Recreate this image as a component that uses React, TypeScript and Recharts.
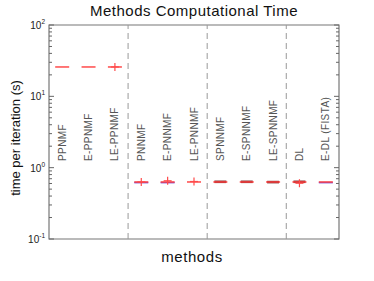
import { ComposedChart, Scatter, XAxis, YAxis, ReferenceLine, ReferenceArea } from 'recharts'

const methods = ['PPNMF', 'E-PPNMF', 'LE-PPNMF', 'PNNMF', 'E-PNNMF', 'LE-PNNMF', 'SPNNMF', 'E-SPNNMF', 'LE-SPNNMF', 'DL', 'E-DL (FISTA)']
const methodIndex = [1, 2, 3, 4, 5, 6, 7, 8, 9, 10, 11]
const medianTime = [25.8, 25.8, 25.8, 0.63, 0.63, 0.63, 0.63, 0.63, 0.63, 0.63, 0.63]
const lowerQuartile = [null, null, null, 0.618, 0.618, null, null, null, null, null, 0.618]
const boxBody = [null, null, null, null, null, null, 0.633, 0.633, 0.628, 0.633, null]
const outlierX = [3, 4, 5, 6, 10]
const outlierTime = [25.8, 0.63, 0.655, 0.64, 0.605]
const groupBreaks = [3.5, 6.5, 9.5]
const yTicks = [0.1, 0.2, 0.3, 0.4, 0.5, 0.6, 0.7, 0.8, 0.9, 1, 2, 3, 4, 5, 6, 7, 8, 9, 10, 20, 30, 40, 50, 60, 70, 80, 90, 100]

const pts = (vals: (number | null)[]) =>
  vals.map((v, i) => ({ x: methodIndex[i], y: v })).filter((p) => p.y != null)

const medianData = pts(medianTime)
const lowerData = pts(lowerQuartile)
const bodyData = pts(boxBody)
const outlierData = outlierX.map((x, i) => ({ x, y: outlierTime[i] }))

const RED = '#ff4a4a'
const FONT = 'Liberation Sans, Arial, sans-serif'

const leftTick = (props: any) => {
  const { x, y, payload } = props
  const lg = Math.log10(payload.value)
  const exp = Math.round(lg)
  const major = Math.abs(lg - exp) < 1e-6
  return (
    <g>
      <line x1={x} x2={x + (major ? 5 : 3)} y1={y} y2={y} stroke="#666" />
      {major && (
        <text x={x - 4} y={y + 4} textAnchor="end" fontSize={10} fill="#222" fontFamily={FONT}>
          10<tspan dy={-5} fontSize={6.5}>{exp}</tspan>
        </text>
      )}
    </g>
  )
}

const rightTick = (props: any) => {
  const { x, y, payload } = props
  const lg = Math.log10(payload.value)
  const major = Math.abs(lg - Math.round(lg)) < 1e-6
  return <line x1={x} x2={x - (major ? 5 : 3)} y1={y} y2={y} stroke="#666" />
}

const methodTick = (props: any) => {
  const { x, y, payload } = props
  const name = methods[payload.value - 1]
  if (!name) return <g />
  const tx = x + 3.5
  const ty = y - 78
  return (
    <text x={tx} y={ty} transform={`rotate(-90 ${tx} ${ty})`} textAnchor="start" fontSize={10} letterSpacing={0.4} fill="#555" fontFamily={FONT}>
      {name}
    </text>
  )
}

const MedianLine = ({ cx, cy }: any) => (
  <line x1={cx - 7} x2={cx + 7} y1={cy} y2={cy} stroke={RED} strokeWidth={1.5} />
)
const LowerLine = ({ cx, cy }: any) => (
  <line x1={cx - 7} x2={cx + 7} y1={cy} y2={cy} stroke="#6a2fc8" strokeWidth={1.5} />
)
const BodyLine = ({ cx, cy }: any) => (
  <line x1={cx - 6} x2={cx + 6} y1={cy} y2={cy} stroke="#6b0f0f" strokeWidth={2.5} />
)
const Plus = ({ cx, cy }: any) => (
  <g stroke={RED} strokeWidth={1.2}>
    <line x1={cx - 4} x2={cx + 4} y1={cy} y2={cy} />
    <line x1={cx} x2={cx} y1={cy - 4} y2={cy + 4} />
  </g>
)

export default function App() {
  return (
    <div style={{ position: 'relative', width: 374, height: 281, fontFamily: FONT }}>
      <style>{'body{margin:0}'}</style>
      <ComposedChart width={374} height={281} margin={{ top: 25, right: 30, bottom: 41, left: 19 }}>
        <XAxis dataKey="x" type="number" domain={[0.5, 11.5]} ticks={methodIndex} height={1} axisLine={false} tickLine={false} tickSize={0} tickMargin={0} tick={methodTick} interval={0} allowDataOverflow />
        <YAxis yAxisId="l" type="number" scale="log" domain={[0.1, 100]} ticks={yTicks} width={30} axisLine={false} tickLine={false} tickSize={0} tickMargin={0} tick={leftTick} interval={0} allowDataOverflow />
        <YAxis yAxisId="r" orientation="right" type="number" scale="log" domain={[0.1, 100]} ticks={yTicks} width={5} axisLine={false} tickLine={false} tickSize={0} tickMargin={0} tick={rightTick} interval={0} allowDataOverflow />
        <ReferenceArea yAxisId="l" x1={0.5} x2={11.5} y1={0.1} y2={100} fill="none" stroke="#777" strokeWidth={1.2} fillOpacity={0} />
        {groupBreaks.map((b) => (
          <ReferenceLine key={b} yAxisId="l" x={b} stroke="#999" strokeDasharray="6 4" />
        ))}
        <Scatter yAxisId="r" data={medianData} dataKey="y" shape={() => <g />} isAnimationActive={false} />
        <Scatter yAxisId="l" data={lowerData} dataKey="y" shape={<LowerLine />} isAnimationActive={false} />
        <Scatter yAxisId="l" data={bodyData} dataKey="y" shape={<BodyLine />} isAnimationActive={false} />
        <Scatter yAxisId="l" data={medianData} dataKey="y" shape={<MedianLine />} isAnimationActive={false} />
        <Scatter yAxisId="l" data={outlierData} dataKey="y" shape={<Plus />} isAnimationActive={false} />
      </ComposedChart>
      <svg width={374} height={281} style={{ position: 'absolute', left: 0, top: 0, overflow: 'visible', zIndex: 2, pointerEvents: 'none' }}>
        <text x={194} y={15.5} textAnchor="middle" fontSize={15} letterSpacing={0.5} fill="#111" fontFamily={FONT}>
          Methods Computational Time
        </text>
        <text x={192} y={262} textAnchor="middle" fontSize={15} letterSpacing={0.6} fill="#111" fontFamily={FONT}>
          methods
        </text>
        <text x={20} y={138} transform="rotate(-90 20 138)" textAnchor="middle" fontSize={13} fill="#111" fontFamily={FONT}>
          time per iteration (s)
        </text>
      </svg>
    </div>
  )
}
